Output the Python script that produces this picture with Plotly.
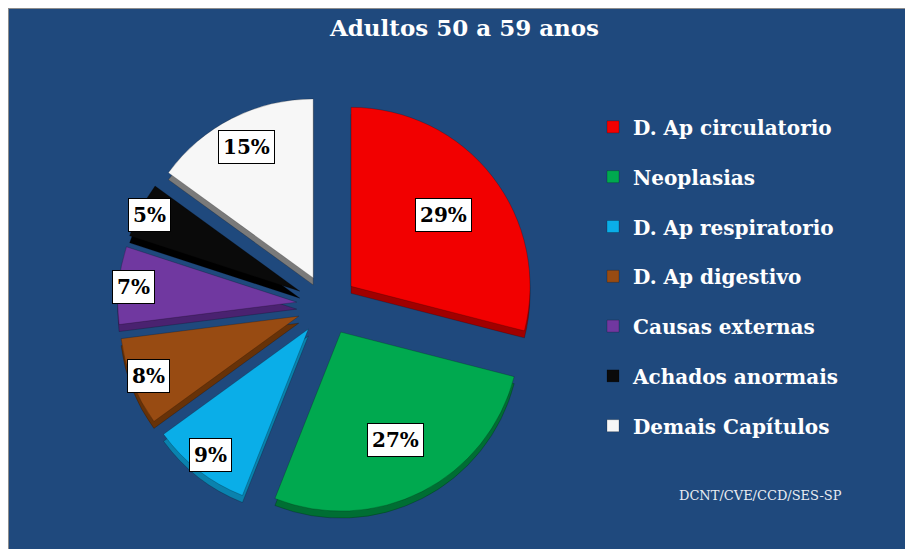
import math
import plotly.graph_objects as go

categories = ["D. Ap circulatorio", "Neoplasias", "D. Ap respiratorio", "D. Ap digestivo",
              "Causas externas", "Achados anormais", "Demais Capítulos"]
values = [29, 27, 9, 8, 7, 5, 15]
colors = ["#F20000", "#00A94F", "#0AAEE8", "#984B12", "#7038A0", "#0A0A0A", "#F7F7F7"]
side_colors = ["#A00000", "#006E33", "#0A82AE", "#673208", "#4A2270", "#000000", "#7A7A7A"]
title_text = "Adultos 50 a 59 anos"
source_text = "DCNT/CVE/CCD/SES-SP"

W, H = 913, 549
BG = "#1F497D"
FONT = "DejaVu Serif"
pull = 0.17
R_PX = 179
CX, CY = 319, 297
DEPTH = 7
half = R_PX * (1 + pull)


def domain_for(cx, cy):
    return dict(x=[(cx - half) / W, (cx + half) / W],
                y=[1 - (cy + half) / H, 1 - (cy - half) / H])


fig = go.Figure()
# darker copy underneath, offset downward, to give the extruded (3-D) edge
fig.add_trace(go.Pie(
    labels=categories, values=values, sort=False, direction="clockwise", rotation=0,
    pull=[pull] * len(values),
    marker=dict(colors=side_colors, line=dict(color="rgba(0,0,0,0.35)", width=0.6)),
    textinfo="none", hoverinfo="skip", showlegend=False,
    domain=domain_for(CX, CY + DEPTH),
))
fig.add_trace(go.Pie(
    labels=[f"<span style='font-size:20px;baseline-shift:6px'><b>{c}</b></span>" for c in categories],
    values=values,
    sort=False,
    direction="clockwise",
    rotation=0,
    pull=[pull] * len(values),
    marker=dict(colors=colors, line=dict(color="rgba(0,0,0,0.35)", width=0.6)),
    textinfo="none",
    hoverinfo="label+percent",
    domain=domain_for(CX, CY),
))

# percentage label boxes placed from the data via pie geometry
dom = domain_for(CX, CY)
bw = W * (dom["x"][1] - dom["x"][0])
bh = H * (dom["y"][1] - dom["y"][0])
r = min(bw, bh) / (2 + 2 * pull)
cx = W * (dom["x"][0] + dom["x"][1]) / 2
cy = H * (1 - (dom["y"][0] + dom["y"][1]) / 2)
total = sum(values)
cum = 0
for v in values:
    share = v / total
    theta = math.radians((cum + v / 2) / total * 360)
    cum += v
    d = r * (pull + 1.0 - 1.2 * share)
    px = cx + d * math.sin(theta)
    py = cy - d * math.cos(theta)
    fig.add_annotation(
        x=px / W, y=1 - py / H, xref="paper", yref="paper",
        xanchor="center", yanchor="middle",
        text=f"<b>{round(share * 100)}%</b>", showarrow=False,
        font=dict(family=FONT, size=20, color="black"),
        bgcolor="white", bordercolor="black", borderwidth=1, borderpad=4,
    )

fig.add_annotation(x=752 / W, y=1 - 487 / H, xref="paper", yref="paper",
                   xanchor="center", yanchor="middle",
                   text=source_text, showarrow=False,
                   font=dict(family=FONT, size=13, color="#E8ECF2"))

fig.add_shape(type="rect", xref="paper", yref="paper", x0=0, y0=0, x1=1, y1=1,
              line=dict(color="#8C8C8C", width=2))

fig.update_layout(
    width=W, height=H,
    paper_bgcolor=BG, plot_bgcolor=BG,
    margin=dict(l=0, r=0, t=0, b=0),
    title=dict(text=f"<b>{title_text}</b>", x=0.5, xanchor="center", y=1 - 20 / H, yanchor="middle",
               font=dict(family=FONT, size=23, color="white")),
    showlegend=True,
    legend=dict(x=585 / W, y=1 - 89 / H, xanchor="left", yanchor="top",
                font=dict(family=FONT, size=36, color="white"),
                bgcolor="rgba(0,0,0,0)", itemclick=False),
)

fig.write_html("out.html")
